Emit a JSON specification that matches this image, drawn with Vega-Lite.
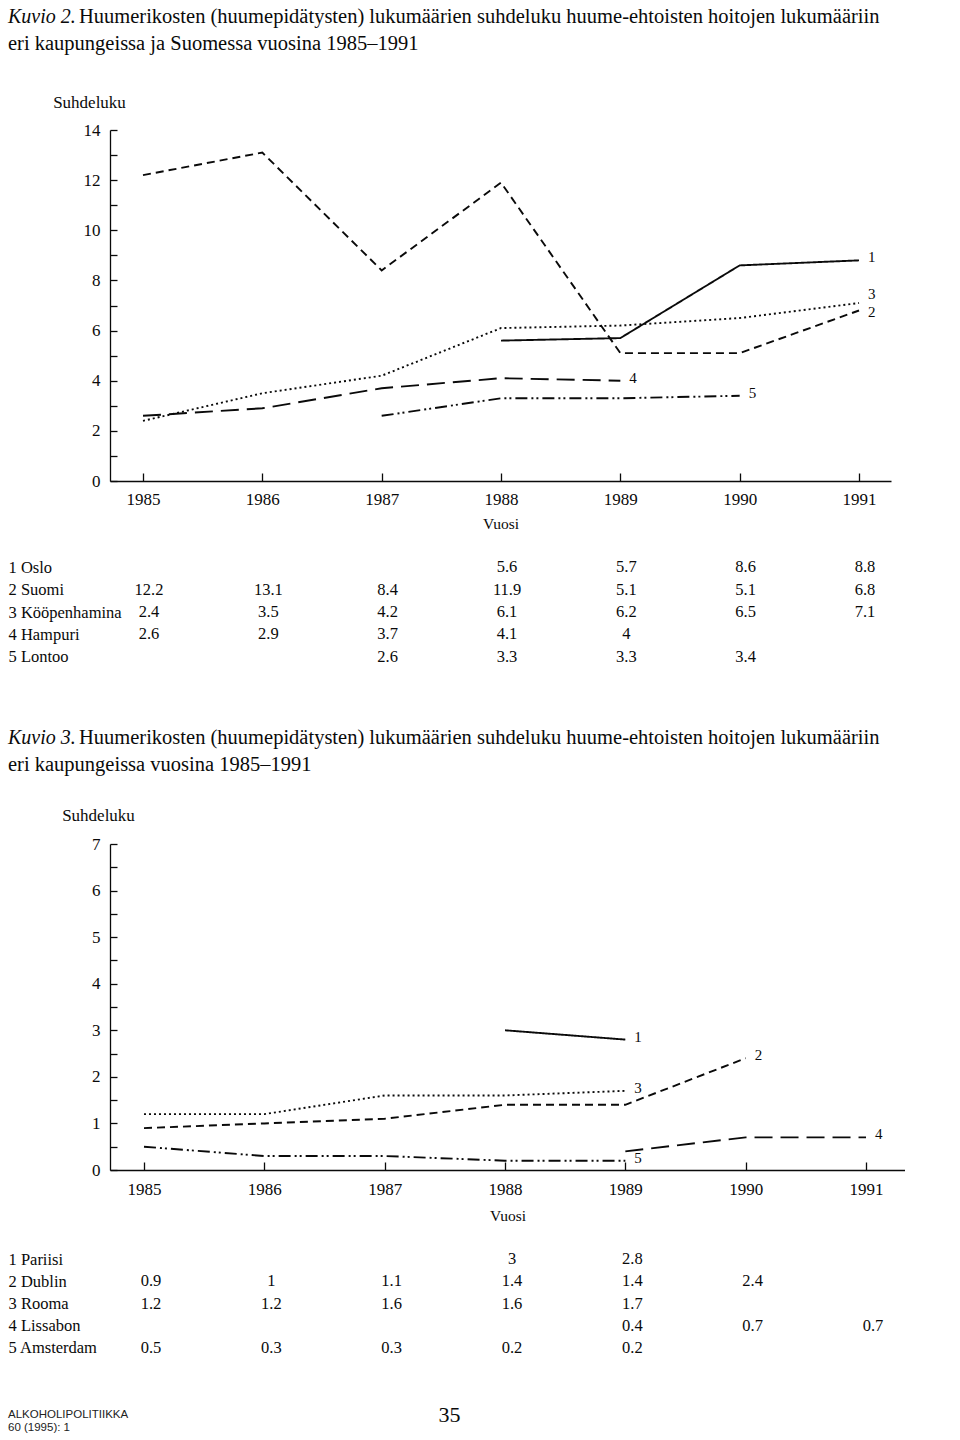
{
  "$schema": "https://vega.github.io/schema/vega-lite/v6.json",
  "background": "white",
  "padding": {"left": 8, "top": 6, "right": 0, "bottom": 0},
  "spacing": 59,
  "config": {
    "font": "Liberation Serif",
    "view": {"stroke": null},
    "axis": {"labelFont": "Liberation Serif", "titleFont": "Liberation Serif", "labelColor": "#0a0a0a", "titleColor": "#0a0a0a", "domainColor": "#0a0a0a", "tickColor": "#0a0a0a", "grid": false, "titleFontWeight": "normal", "domainWidth": 1.3, "tickWidth": 1.3},
    "title": {"font": "Liberation Serif", "color": "#0a0a0a", "fontWeight": "normal", "subtitleFont": "Liberation Serif", "subtitleColor": "#0a0a0a"}
  },
  "datasets": {
    "k2": [
      {"nro": "1", "nimi": "1 Oslo", "vuosi": 1988, "arvo": 5.6},
      {"nro": "1", "nimi": "1 Oslo", "vuosi": 1989, "arvo": 5.7},
      {"nro": "1", "nimi": "1 Oslo", "vuosi": 1990, "arvo": 8.6},
      {"nro": "1", "nimi": "1 Oslo", "vuosi": 1991, "arvo": 8.8},
      {"nro": "2", "nimi": "2 Suomi", "vuosi": 1985, "arvo": 12.2},
      {"nro": "2", "nimi": "2 Suomi", "vuosi": 1986, "arvo": 13.1},
      {"nro": "2", "nimi": "2 Suomi", "vuosi": 1987, "arvo": 8.4},
      {"nro": "2", "nimi": "2 Suomi", "vuosi": 1988, "arvo": 11.9},
      {"nro": "2", "nimi": "2 Suomi", "vuosi": 1989, "arvo": 5.1},
      {"nro": "2", "nimi": "2 Suomi", "vuosi": 1990, "arvo": 5.1},
      {"nro": "2", "nimi": "2 Suomi", "vuosi": 1991, "arvo": 6.8},
      {"nro": "3", "nimi": "3 Kööpenhamina", "vuosi": 1985, "arvo": 2.4},
      {"nro": "3", "nimi": "3 Kööpenhamina", "vuosi": 1986, "arvo": 3.5},
      {"nro": "3", "nimi": "3 Kööpenhamina", "vuosi": 1987, "arvo": 4.2},
      {"nro": "3", "nimi": "3 Kööpenhamina", "vuosi": 1988, "arvo": 6.1},
      {"nro": "3", "nimi": "3 Kööpenhamina", "vuosi": 1989, "arvo": 6.2},
      {"nro": "3", "nimi": "3 Kööpenhamina", "vuosi": 1990, "arvo": 6.5},
      {"nro": "3", "nimi": "3 Kööpenhamina", "vuosi": 1991, "arvo": 7.1},
      {"nro": "4", "nimi": "4 Hampuri", "vuosi": 1985, "arvo": 2.6},
      {"nro": "4", "nimi": "4 Hampuri", "vuosi": 1986, "arvo": 2.9},
      {"nro": "4", "nimi": "4 Hampuri", "vuosi": 1987, "arvo": 3.7},
      {"nro": "4", "nimi": "4 Hampuri", "vuosi": 1988, "arvo": 4.1},
      {"nro": "4", "nimi": "4 Hampuri", "vuosi": 1989, "arvo": 4},
      {"nro": "5", "nimi": "5 Lontoo", "vuosi": 1987, "arvo": 2.6},
      {"nro": "5", "nimi": "5 Lontoo", "vuosi": 1988, "arvo": 3.3},
      {"nro": "5", "nimi": "5 Lontoo", "vuosi": 1989, "arvo": 3.3},
      {"nro": "5", "nimi": "5 Lontoo", "vuosi": 1990, "arvo": 3.4}
    ],
    "k3": [
      {"nro": "1", "nimi": "1 Pariisi", "vuosi": 1988, "arvo": 3},
      {"nro": "1", "nimi": "1 Pariisi", "vuosi": 1989, "arvo": 2.8},
      {"nro": "2", "nimi": "2 Dublin", "vuosi": 1985, "arvo": 0.9},
      {"nro": "2", "nimi": "2 Dublin", "vuosi": 1986, "arvo": 1},
      {"nro": "2", "nimi": "2 Dublin", "vuosi": 1987, "arvo": 1.1},
      {"nro": "2", "nimi": "2 Dublin", "vuosi": 1988, "arvo": 1.4},
      {"nro": "2", "nimi": "2 Dublin", "vuosi": 1989, "arvo": 1.4},
      {"nro": "2", "nimi": "2 Dublin", "vuosi": 1990, "arvo": 2.4},
      {"nro": "3", "nimi": "3 Rooma", "vuosi": 1985, "arvo": 1.2},
      {"nro": "3", "nimi": "3 Rooma", "vuosi": 1986, "arvo": 1.2},
      {"nro": "3", "nimi": "3 Rooma", "vuosi": 1987, "arvo": 1.6},
      {"nro": "3", "nimi": "3 Rooma", "vuosi": 1988, "arvo": 1.6},
      {"nro": "3", "nimi": "3 Rooma", "vuosi": 1989, "arvo": 1.7},
      {"nro": "4", "nimi": "4 Lissabon", "vuosi": 1989, "arvo": 0.4},
      {"nro": "4", "nimi": "4 Lissabon", "vuosi": 1990, "arvo": 0.7},
      {"nro": "4", "nimi": "4 Lissabon", "vuosi": 1991, "arvo": 0.7},
      {"nro": "5", "nimi": "5 Amsterdam", "vuosi": 1985, "arvo": 0.5},
      {"nro": "5", "nimi": "5 Amsterdam", "vuosi": 1986, "arvo": 0.3},
      {"nro": "5", "nimi": "5 Amsterdam", "vuosi": 1987, "arvo": 0.3},
      {"nro": "5", "nimi": "5 Amsterdam", "vuosi": 1988, "arvo": 0.2},
      {"nro": "5", "nimi": "5 Amsterdam", "vuosi": 1989, "arvo": 0.2}
    ]
  },
  "title": {
    "text": ["ALKOHOLIPOLITIIKKA", "60 (1995): 1"],
    "orient": "bottom",
    "anchor": "start",
    "frame": "bounds",
    "font": "Liberation Sans",
    "fontSize": 11.5,
    "lineHeight": 13,
    "fontWeight": "normal",
    "color": "#222",
    "offset": -16
  },
  "vconcat": [
    {
      "title": {
        "text": "Kuvio 2.",
        "subtitle": "eri kaupungeissa ja Suomessa vuosina 1985–1991",
        "anchor": "start",
        "frame": "bounds",
        "fontSize": 20,
        "fontStyle": "italic",
        "subtitleFontSize": 20.5,
        "subtitlePadding": 7,
        "offset": 0,
        "dy": 48
      },
      "spacing": 24,
      "vconcat": [
        {
          "width": 781,
          "height": 351,
          "title": {
            "text": "Huumerikosten (huumepidätysten) lukumäärien suhdeluku huume-ehtoisten hoitojen lukumääriin",
            "anchor": "start",
            "frame": "group",
            "fontSize": 20.5,
            "dx": -31,
            "offset": 66
          },
          "data": {"name": "k2"},
          "encoding": {
            "x": {
              "field": "vuosi", "type": "quantitative",
              "scale": {"domain": [1984.7235, 1991.268], "nice": false, "zero": false},
              "axis": {"values": [1985, 1986, 1987, 1988, 1989, 1990, 1991], "format": "d", "tickSize": -8, "labelPadding": 18, "labelFontSize": 17, "labelFlush": false, "title": "Vuosi", "titleFontSize": 15.5, "titleY": 42, "titleBaseline": "middle"}
            },
            "y": {
              "field": "arvo", "type": "quantitative",
              "scale": {"domain": [0, 14], "nice": false},
              "axis": {"values": [0, 1, 2, 3, 4, 5, 6, 7, 8, 9, 10, 11, 12, 13, 14], "labelExpr": "datum.value % 2 == 0 ? datum.label : ''", "tickSize": -7, "labelPadding": 17, "labelFontSize": 17, "title": "Suhdeluku", "titleAngle": 0, "titleX": -21, "titleY": -28, "titleAlign": "center", "titleBaseline": "middle", "titleFontSize": 17}
            }
          },
          "layer": [
            {
              "mark": {"type": "line", "strokeWidth": 1.9, "color": "#0a0a0a"},
              "encoding": {
                "strokeDash": {"field": "nro", "type": "nominal", "legend": null,
                  "scale": {"domain": ["1", "2", "3", "4", "5"], "range": [[1, 0], [8, 5], [2, 3], [18, 8], [12, 4, 2, 3, 2, 4]]}}
              }
            },
            {
              "transform": [
                {"joinaggregate": [{"op": "max", "field": "vuosi", "as": "viim"}], "groupby": ["nro"]},
                {"filter": "datum.vuosi == datum.viim && datum.nro != '3' && datum.nro != '2'"}
              ],
              "mark": {"type": "text", "align": "left", "baseline": "middle", "dx": 9, "dy": -3, "fontSize": 15, "color": "#0a0a0a"},
              "encoding": {"text": {"field": "nro"}}
            },
            {
              "transform": [
                {"joinaggregate": [{"op": "max", "field": "vuosi", "as": "viim"}], "groupby": ["nro"]},
                {"filter": "datum.vuosi == datum.viim && datum.nro == '3'"}
              ],
              "mark": {"type": "text", "align": "left", "baseline": "middle", "dx": 9, "dy": -9, "fontSize": 15, "color": "#0a0a0a"},
              "encoding": {"text": {"field": "nro"}}
            },
            {
              "transform": [
                {"joinaggregate": [{"op": "max", "field": "vuosi", "as": "viim"}], "groupby": ["nro"]},
                {"filter": "datum.vuosi == datum.viim && datum.nro == '2'"}
              ],
              "mark": {"type": "text", "align": "left", "baseline": "middle", "dx": 9, "dy": 1, "fontSize": 15, "color": "#0a0a0a"},
              "encoding": {"text": {"field": "nro"}}
            }
          ]
        },
        {
          "width": 781,
          "height": 112,
          "data": {"name": "k2"},
          "mark": {"type": "text", "fontSize": 16.5, "dx": 6, "color": "#0a0a0a"},
          "encoding": {
            "x": {"field": "vuosi", "type": "quantitative", "scale": {"domain": [1984.7235, 1991.268], "nice": false, "zero": false}, "axis": null},
            "y": {"field": "nimi", "type": "ordinal", "scale": {"type": "point", "padding": 0.5},
              "axis": {"domain": false, "ticks": false, "labelAlign": "left", "labelPadding": 102, "labelFontSize": 16.5, "title": null}},
            "text": {"field": "arvo", "type": "quantitative"}
          }
        }
      ]
    },
    {
      "title": {
        "text": "Kuvio 3.",
        "subtitle": "eri kaupungeissa vuosina 1985–1991",
        "anchor": "start",
        "frame": "bounds",
        "fontSize": 20,
        "fontStyle": "italic",
        "subtitleFontSize": 20.5,
        "subtitlePadding": 7,
        "offset": 0,
        "dy": 48
      },
      "spacing": 24,
      "vconcat": [
        {
          "width": 795,
          "height": 326,
          "title": {
            "text": "Huumerikosten (huumepidätysten) lukumäärien suhdeluku huume-ehtoisten hoitojen lukumääriin",
            "anchor": "start",
            "frame": "group",
            "fontSize": 20.5,
            "dx": -31,
            "offset": 58
          },
          "data": {"name": "k3"},
          "encoding": {
            "x": {
              "field": "vuosi", "type": "quantitative",
              "scale": {"domain": [1984.7175, 1991.324], "nice": false, "zero": false},
              "axis": {"values": [1985, 1986, 1987, 1988, 1989, 1990, 1991], "format": "d", "tickSize": -8, "labelPadding": 19, "labelFontSize": 17, "labelFlush": false, "title": "Vuosi", "titleFontSize": 15.5, "titleY": 45, "titleBaseline": "middle"}
            },
            "y": {
              "field": "arvo", "type": "quantitative",
              "scale": {"domain": [0, 7], "nice": false},
              "axis": {"values": [0, 0.5, 1, 1.5, 2, 2.5, 3, 3.5, 4, 4.5, 5, 5.5, 6, 6.5, 7], "labelExpr": "datum.value % 1 == 0 ? format(datum.value, 'd') : ''", "tickSize": -7, "labelPadding": 17, "labelFontSize": 17, "title": "Suhdeluku", "titleAngle": 0, "titleX": -12, "titleY": -29, "titleAlign": "center", "titleBaseline": "middle", "titleFontSize": 17}
            }
          },
          "layer": [
            {
              "mark": {"type": "line", "strokeWidth": 1.9, "color": "#0a0a0a"},
              "encoding": {
                "strokeDash": {"field": "nro", "type": "nominal", "legend": null,
                  "scale": {"domain": ["1", "2", "3", "4", "5"], "range": [[1, 0], [8, 5], [2, 3], [18, 8], [12, 4, 2, 3, 2, 4]]}}
              }
            },
            {
              "transform": [
                {"joinaggregate": [{"op": "max", "field": "vuosi", "as": "viim"}], "groupby": ["nro"]},
                {"filter": "datum.vuosi == datum.viim"}
              ],
              "mark": {"type": "text", "align": "left", "baseline": "middle", "dx": 9, "dy": -3, "fontSize": 15, "color": "#0a0a0a"},
              "encoding": {"text": {"field": "nro"}}
            }
          ]
        },
        {
          "width": 795,
          "height": 111,
          "data": {"name": "k3"},
          "mark": {"type": "text", "fontSize": 16.5, "dx": 7, "color": "#0a0a0a"},
          "encoding": {
            "x": {"field": "vuosi", "type": "quantitative", "scale": {"domain": [1984.7175, 1991.324], "nice": false, "zero": false},
              "axis": {"domain": false, "ticks": false, "labels": false, "title": "35", "titleX": 339, "titleY": 55, "titleAlign": "center", "titleBaseline": "middle", "titleFontSize": 22}},
            "y": {"field": "nimi", "type": "ordinal", "scale": {"type": "point", "padding": 0.5},
              "axis": {"domain": false, "ticks": false, "labelAlign": "left", "labelPadding": 102, "labelFontSize": 16.5, "title": null}},
            "text": {"field": "arvo", "type": "quantitative"}
          }
        }
      ]
    }
  ]
}
